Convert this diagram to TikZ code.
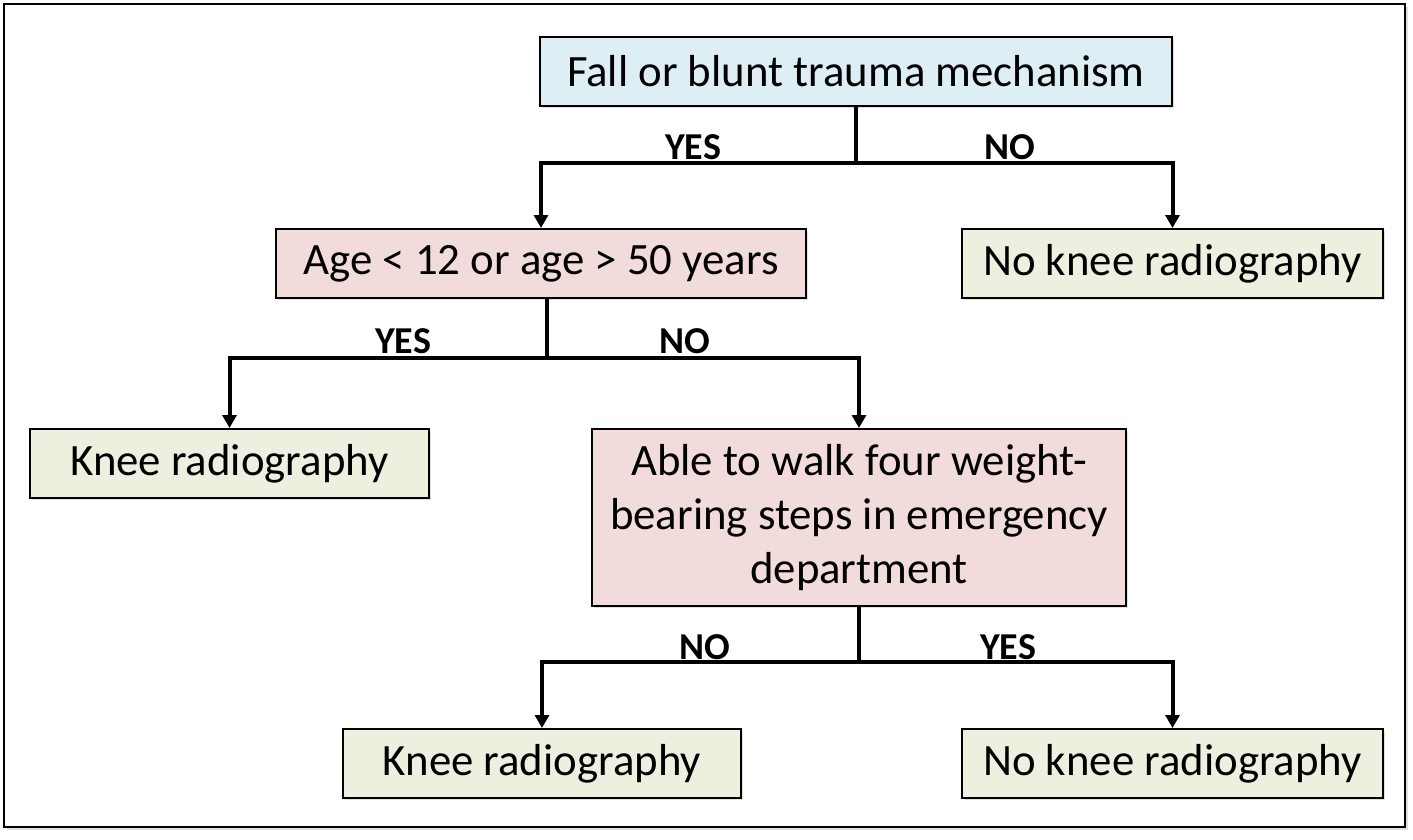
\documentclass[tikz,border=0pt]{standalone}
\usepackage{fontspec}
\setmainfont{Carlito}
\usetikzlibrary{arrows.meta,shadows}
\definecolor{BoxBlue}{HTML}{DDEEF5}
\definecolor{BoxPink}{HTML}{F2DCDB}
\definecolor{BoxGreen}{HTML}{EBF1DE}
\tikzset{
  box/.style={draw=black,line width=1pt,minimum height=34.5pt,inner sep=0pt,
    font=\fontsize{22.4}{27.2}\selectfont,align=center,
    drop shadow={opacity=0.25,shadow xshift=1pt,shadow yshift=-1pt}},
  ans/.style={font=\fontsize{19}{21}\selectfont\bfseries},
  link/.style={line width=2pt},
  arr/.style={line width=2pt,-{Triangle[length=6.5pt,width=7pt]}}
}

\begin{document}
\begin{tikzpicture}[x=0.5pt,y=-0.5pt]
    \useasboundingbox (0,0) rectangle (1413,840);
    \draw[line width=1pt,fill=white,drop shadow={opacity=0.25,shadow xshift=1.5pt,shadow yshift=-1.5pt}] (4,4) rectangle (1405,827);

    \node[box,fill=BoxBlue,minimum width=316pt] (fall) at (856,71.5) {Fall or blunt trauma mechanism};
    \node[box,fill=BoxPink,minimum width=265pt] (age) at (541,263.5) {Age < 12 or age > 50 years};
    \node[box,fill=BoxGreen,minimum width=210.5pt] (noxr1) at (1172.5,263.5) {No knee radiography};
    \node[box,fill=BoxGreen,minimum width=199.5pt] (xr1) at (229.5,463.5) {Knee radiography};
    \node[box,fill=BoxPink,minimum width=267pt,minimum height=88.5pt] (walk) at (859,517.5) {Able to walk four weight-\\bearing steps in emergency\\department};
    \node[box,fill=BoxGreen,minimum width=199pt] (xr2) at (542,763.5) {Knee radiography};
    \node[box,fill=BoxGreen,minimum width=210.5pt] (noxr2) at (1172.5,763.5) {No knee radiography};

    \coordinate (j1) at (fall.south |- 0,163);
    \coordinate (j2) at (547,358);
    \coordinate (j3) at (walk.south |- 0,662);

    \draw[link] (fall.south) -- (j1);
    \draw[arr] (j1) -| (age.north);
    \draw[arr] (j1) -| (noxr1.north);
    \node[ans] (y1) at (693,147) {YES};
    \node[ans] (n1) at (1010,147) {NO};

    \draw[link] (j2 |- age.south) -- (j2);
    \draw[arr] (j2) -| (xr1.north);
    \draw[arr] (j2) -| (walk.north);
    \node[ans] (y2) at (403,341) {YES};
    \node[ans] (n2) at (685,341) {NO};

    \draw[link] (walk.south) -- (j3);
    \draw[arr] (j3) -| (xr2.north);
    \draw[arr] (j3) -| (noxr2.north);
    \node[ans] (n3) at (705,647) {NO};
    \node[ans] (y3) at (1008,647) {YES};
\end{tikzpicture}
\end{document}
